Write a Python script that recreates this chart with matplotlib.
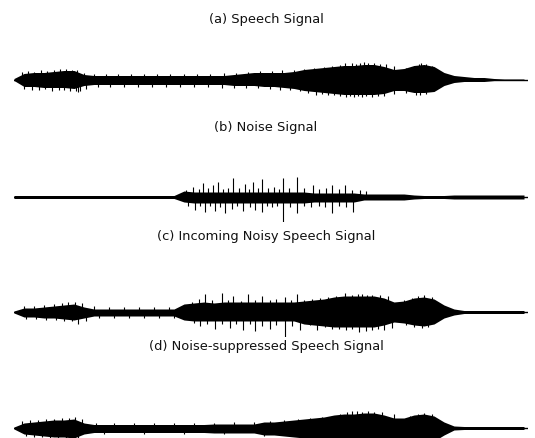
import numpy as np
import matplotlib
matplotlib.use("Agg")
import matplotlib.pyplot as plt

# time axis (arbitrary units), envelope sampled every 10 units
t = np.arange(0, 520, 10)  # 52 points

titles = ["(a) Speech Signal", "(b) Noise Signal",
          "(c) Incoming Noisy Speech Signal", "(d) Noise-suppressed Speech Signal"]

# ---- (a) speech
a_up = [1, 6, 7, 7, 8, 9, 9, 5, 4, 4, 4, 4, 4, 4, 4, 4, 4, 4, 4, 4, 4, 4, 5, 6, 7, 7,
        7, 7, 8, 10, 11, 12, 13, 14, 14, 15, 15, 13, 10, 11, 14, 15, 13, 7, 4, 3, 2, 2, 1, 0.5, 0.5, 0.5]
a_lo = [1, 7, 7, 8, 8, 8, 9, 6, 5, 5, 5, 5, 5, 5, 5, 5, 5, 5, 5, 5, 5, 5, 6, 6, 6, 7,
        7, 8, 9, 11, 12, 13, 14, 15, 15, 15, 15, 14, 11, 11, 13, 13, 12, 6, 3, 2, 2, 2, 1, 0.5, 0.5, 0.5]
a_sp_up_t = [8, 14, 20, 27, 33, 40, 46, 52, 58, 63, 70, 80, 92, 104, 117, 130, 143, 156, 170,
             183, 196, 210, 222, 234, 246, 258, 268, 280, 290, 300, 310, 318, 326, 331, 338,
             342, 346, 350, 354, 360, 366, 372, 380, 392, 400, 405, 407, 412, 418]
a_sp_up = [8, 9, 8, 10, 9, 10, 11, 11, 10, 10, 7, 6, 6, 6, 6, 6, 6, 6, 6,
           6, 6, 7, 7, 8, 9, 9, 10, 10, 11, 12, 13, 14, 15, 17, 17,
           16, 17, 18, 17, 17, 16, 16, 14, 12, 14, 16, 17, 16, 14]
a_sp_lo_t = [10, 18, 25, 31, 38, 45, 50, 56, 62, 64, 66, 72, 84, 96, 110, 124, 138, 152, 166,
             180, 194, 208, 220, 232, 244, 256, 266, 276, 286, 294, 302, 308, 314, 320, 326,
             332, 336, 340, 344, 348, 352, 358, 364, 370, 380, 392, 402, 406, 412]
a_sp_lo = [9, 10, 10, 9, 11, 10, 10, 11, 11, 12, 11, 9, 7, 7, 7, 7, 7, 7, 7,
           7, 7, 8, 8, 8, 8, 9, 10, 10, 11, 13, 15, 14, 15, 15, 16,
           17, 16.5, 17, 16, 17, 16, 17, 16, 16, 14, 13, 15, 15, 14]

# ---- (b) noise
b_up = [1.5] * 17 + [6, 5, 5, 5, 5, 5, 5, 5, 5, 5, 5, 5, 5, 4, 4, 4, 4, 4, 3, 3, 3, 3, 3, 2,
                     1.5, 1.5, 1.5, 2, 2, 2, 2, 2, 2, 2, 2]
b_lo = [1.5] * 17 + [5, 6, 6, 6, 6, 6, 6, 6, 6, 6, 6, 6, 6, 5, 5, 5, 5, 5, 3, 3, 3, 3, 3, 2,
                     1.5, 1.5, 1.5, 2, 2, 2, 2, 2, 2, 2, 2]
b_sp_up_t = [172, 179, 185, 189, 194, 199, 204, 209, 214, 219, 225, 231, 235, 239, 244, 248,
             254, 260, 265, 269, 275, 283, 290, 299, 305, 312, 318, 325, 331, 338, 346, 352]
b_sp_up = [7, 10, 8, 14, 9, 12, 15, 8, 9, 19, 9, 13, 8, 15, 9, 18,
           9, 10, 8, 19, 9, 20, 9, 12, 8, 9, 12, 8, 12, 7, 7, 6]
b_sp_lo_t = [174, 181, 186, 191, 196, 201, 206, 211, 218, 223, 229, 236, 241, 248, 253,
             258, 263, 269, 276, 283, 290, 297, 305, 311, 318, 325, 332, 339]
b_sp_lo = [9, 13, 9, 15, 9, 14, 10, 16, 12, 9, 14, 10, 13, 15, 9,
           10, 9, 25, 10, 16, 9, 10, 9, 10, 16, 9, 10, 15]

# ---- (c) noisy speech
c_up = [1, 4, 4, 5, 6, 7, 8, 5, 3, 3, 3, 3, 3, 3, 3, 3, 3, 8, 9, 10, 9, 10, 10, 10, 10, 10,
        10, 10, 10, 11, 12, 13, 15, 16, 16, 16, 16, 14, 10, 11, 14, 15, 13, 7, 3, 1.5, 1.5, 1.5, 1.5, 1.5, 1.5, 1.5]
c_lo = [1, 5, 5, 6, 6, 7, 8, 6, 4, 4, 4, 4, 4, 4, 4, 4, 4, 8, 9, 9, 9, 9, 9, 9, 9, 9,
        9, 9, 9, 12, 13, 14, 15, 15, 15, 15, 15, 13, 10, 11, 13, 14, 12, 6, 3, 1.5, 1.5, 1.5, 1.5, 1.5, 1.5, 1.5]
c_sp_up_t = [10, 20, 30, 40, 48, 54, 61, 68, 80, 95, 110, 125, 140, 155, 168, 178, 185, 191,
             198, 208, 214, 219, 227, 234, 241, 248, 256, 262, 271, 277, 283, 290, 298,
             306, 314, 322, 331, 338, 344, 348, 353, 358, 366, 374, 390, 398, 404, 410, 418]
c_sp_up = [6, 6, 7, 8, 9, 10, 10, 9, 6, 5, 5, 5, 5, 5, 5, 10, 13, 18,
           12, 19, 12, 16, 11, 18, 12, 16, 12, 13, 15, 12, 18, 12, 13,
           14, 15, 16, 19, 17, 18, 18, 17, 17, 17, 16, 12, 14, 16, 17, 15]
c_sp_lo_t = [12, 22, 32, 42, 50, 58, 64, 72, 85, 100, 115, 130, 145, 160, 172, 180, 186,
             193, 201, 208, 216, 222, 229, 236, 241, 248, 256, 262, 271, 278, 286, 296, 303,
             311, 318, 325, 332, 338, 345, 352, 358, 364, 370, 378, 392, 400, 408, 414]
c_sp_lo = [7, 7, 8, 8, 9, 9, 12, 9, 6, 6, 6, 6, 6, 6, 6, 11, 14,
           12, 17, 12, 16, 12, 18, 12, 19, 14, 17, 13, 25, 14, 18, 13, 18,
           15, 17, 17, 18, 17, 20, 19, 18, 17, 18, 16, 13, 15, 16, 15]

# ---- (d) noise-suppressed speech
d_up = [1, 5, 6, 7, 8, 8, 9, 5, 3.5, 3.5, 3.5, 3.5, 3.5, 3.5, 3.5, 3.5, 3.5, 3.5, 3.5, 3.5, 4, 4, 4, 4, 4, 6,
        6, 7, 8, 9, 10, 11, 13, 14, 14, 15, 15, 13, 10, 10, 13, 14, 12, 6, 2, 1.5, 1.5, 1.5, 1.5, 1.5, 1.5, 1.5]
d_lo = [1, 6, 7, 8, 9, 9, 10, 6, 4.5, 4.5, 4.5, 4.5, 4.5, 4.5, 4.5, 4.5, 4.5, 4.5, 4.5, 4.5, 5, 5, 5, 5, 5, 7,
        7, 8, 9, 10, 11, 12, 14, 15, 15, 16, 16, 14, 11, 11, 14, 15, 13, 7, 2, 1.5, 1.5, 1.5, 1.5, 1.5, 1.5, 1.5]
d_sp_up_t = [8, 16, 24, 32, 40, 48, 55, 61, 68, 82, 100, 120, 140, 160, 180, 200, 220,
             240, 256, 270, 284, 296, 308, 318, 326, 333, 338, 343, 348, 354, 360, 368,
             380, 396, 404, 410, 418]
d_sp_up = [7, 8, 8, 9, 9, 10, 10, 11, 9, 5, 5, 5, 5, 5, 5, 5, 6,
           6, 7, 8, 9, 10, 11, 12, 14, 16, 17, 17, 16, 17, 16, 16,
           14, 12, 14, 15, 14]
d_sp_lo_t = [12, 20, 28, 36, 44, 52, 60, 64, 90, 130, 170, 210, 250, 290, 310, 320, 330,
             336, 344, 352, 362, 372, 400, 410]
d_sp_lo = [8, 9, 9, 10, 10, 11, 11, 12, 6, 6, 6, 6, 8, 11, 13, 15, 16,
           17, 17, 17, 17, 16, 15, 15]

panels = [
    (a_up, a_lo, a_sp_up_t, a_sp_up, a_sp_lo_t, a_sp_lo),
    (b_up, b_lo, b_sp_up_t, b_sp_up, b_sp_lo_t, b_sp_lo),
    (c_up, c_lo, c_sp_up_t, c_sp_up, c_sp_lo_t, c_sp_lo),
    (d_up, d_lo, d_sp_up_t, d_sp_up, d_sp_lo_t, d_sp_lo),
]

W, H = 535, 439
fig = plt.figure(figsize=(W / 100, H / 100), dpi=100)
fig.patch.set_facecolor("white")

centers = [80.5, 198, 313, 429]
title_y = [19, 128, 237, 347]
left_px, right_px = 14, 528

for (up, lo, sut, su, slt, sl), yc, ty, title in zip(panels, centers, title_y, titles):
    ax = fig.add_axes([left_px / W, (H - yc - 25) / H, (right_px - left_px) / W, 50 / H])
    up = np.array(up, float)
    lo = np.array(lo, float)
    ax.fill_between(t, up, -lo, color="black", lw=0)
    ax.plot([0, 514], [0, 0], color="black", lw=1)
    ax.vlines(sut, 0, su, color="black", lw=0.8)
    ax.vlines(slt, -np.array(sl), 0, color="black", lw=0.8)
    ax.set_xlim(0, 514)
    ax.set_ylim(-25, 25)
    ax.axis("off")
    fig.text(266 / W, 1 - ty / H, title, ha="center", va="center",
             fontsize=9.4, family="DejaVu Sans", color="#111111")

fig.savefig("out.png", dpi=100)
